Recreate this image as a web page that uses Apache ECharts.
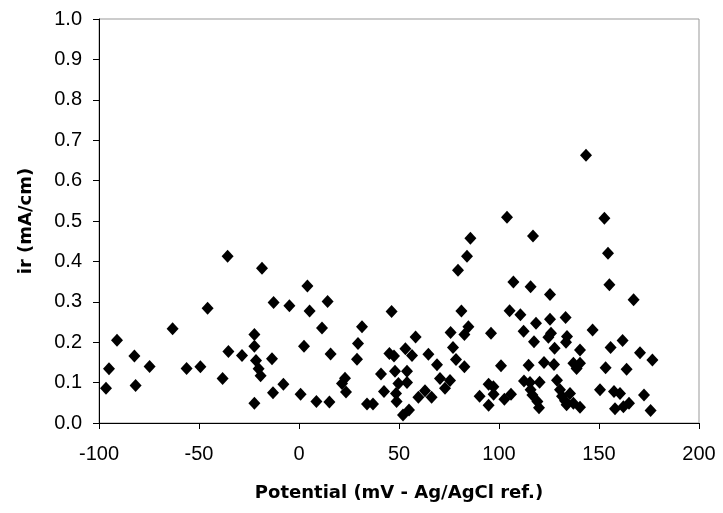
<!DOCTYPE html>
<html>
<head>
<meta charset="utf-8">
<script src="https://cdn.jsdelivr.net/npm/echarts@6/dist/echarts.min.js"></script>
<style>html,body{margin:0;padding:0;background:#fff;}#c{width:723px;height:513px;}</style>
</head>
<body>
<div id="c"></div>
<script>
const potential = [
  -96.5,-95,-91,-82.3,-81.7,-74.7,-63.2,-56.2,-49.3,-45.7,-38.2,-35.7,-35.3,-28.5,-22.3,-22.3,-22.3,-21.5,-20.2,-19.2,-18.5,-13.5,-13,-12.7,-7.8,-4.8,
  0.8,2.5,4.2,5.3,8.7,11.5,14.3,15.2,15.8,21.5,23,23.5,29,29.5,31.5,34,37,41,42.5,45.2,46.3,47.5,48,48.5,48.8,49.7,52,53.2,54,54,55,56.5,58.3,59.7,63,64.7,66.3,69,70.5,73,75.5,75.8,77,78.5,79.5,81.2,82.7,82.7,84,84.7,85.7,90.3,
  94.8,97.2,94.8,96,97.3,101,102.7,104,105.3,106,107.2,110.7,112.3,112.5,114.8,115.5,115.8,115.8,116.7,117,117.5,118.5,119.2,120,120.3,122.5,124.7,125.5,125.5,126,127.5,127.8,129,130.5,131.5,133,133.3,133.5,133.8,134,135.5,137.2,137.2,138.8,140.5,140.5,140.5,143.5,146.8,150.5,152.7,153.3,154.5,155.2,155.8,157.5,158,160.5,161.8,162.2,163.8,165,167.3,170.5,172.5,175.8,176.7
];
const current = [
  0.086,0.134,0.205,0.166,0.093,0.140,0.233,0.135,0.139,0.284,0.110,0.413,0.177,0.167,0.219,0.190,0.049,0.155,0.134,0.117,0.383,0.159,0.075,0.298,0.096,0.290,
  0.071,0.190,0.339,0.277,0.053,0.235,0.301,0.052,0.171,0.098,0.111,0.077,0.158,0.197,0.238,0.047,0.047,0.121,0.078,0.172,0.276,0.166,0.128,0.073,0.053,0.098,0.020,0.184,0.128,0.100,0.032,0.167,0.213,0.064,0.080,0.170,0.064,0.144,0.110,0.086,0.105,0.224,0.187,0.157,0.378,0.277,0.139,0.219,0.413,0.238,0.457,0.066,
  0.096,0.090,0.044,0.222,0.071,0.142,0.059,0.509,0.278,0.071,0.349,0.268,0.227,0.104,0.143,0.100,0.082,0.337,0.069,0.463,0.201,0.247,0.053,0.038,0.101,0.150,0.212,0.257,0.318,0.222,0.145,0.185,0.106,0.082,0.066,0.055,0.261,0.200,0.045,0.214,0.073,0.148,0.049,0.135,0.148,0.181,0.039,0.663,0.230,0.082,0.507,0.137,0.420,0.342,0.187,0.078,0.035,0.073,0.204,0.040,0.133,0.049,0.305,0.174,0.069,0.031,0.156
];
const xTitle = 'Potential (mV - Ag/AgCl ref.)';
const yTitle = 'ir (mA/cm)';

const points = potential.map((x, i) => [x, current[i]]);
const labelFont = 'Liberation Sans, Arial, sans-serif';
const titleFont = 'DejaVu Sans, sans-serif';
const chart = echarts.init(document.getElementById('c'), null, {renderer: 'canvas'});
chart.setOption({
  animation: false,
  backgroundColor: '#fff',
  grid: {left: 99, right: 24, top: 19, bottom: 90, show: true, borderColor: '#999', borderWidth: 1, backgroundColor: 'transparent'},
  xAxis: {
    type: 'value', min: -100, max: 200, interval: 50,
    name: xTitle, nameLocation: 'middle', nameGap: 61,
    nameTextStyle: {fontFamily: titleFont, fontSize: 18, fontWeight: 'bold', color: '#000'},
    axisLine: {show: true, onZero: false, lineStyle: {color: '#000', width: 1}},
    axisTick: {show: true, inside: false, length: 6, lineStyle: {color: '#000'}},
    axisLabel: {fontFamily: labelFont, fontSize: 20, color: '#000', margin: 21},
    splitLine: {show: false}
  },
  yAxis: {
    type: 'value', min: 0, max: 1, interval: 0.1,
    name: yTitle, nameLocation: 'middle', nameGap: 64, nameRotate: 90,
    nameTextStyle: {fontFamily: titleFont, fontSize: 18, fontWeight: 'bold', color: '#000'},
    axisLine: {show: true, onZero: false, lineStyle: {color: '#000', width: 1}},
    axisTick: {show: true, inside: false, length: 6, lineStyle: {color: '#000'}},
    axisLabel: {fontFamily: labelFont, fontSize: 20, color: '#000', margin: 17, formatter: v => v.toFixed(1)},
    splitLine: {show: false}
  },
  series: [{
    type: 'scatter',
    data: points,
    symbol: 'diamond',
    symbolSize: [12, 13],
    itemStyle: {color: '#000', opacity: 1}
  }]
});
</script>
</body>
</html>
